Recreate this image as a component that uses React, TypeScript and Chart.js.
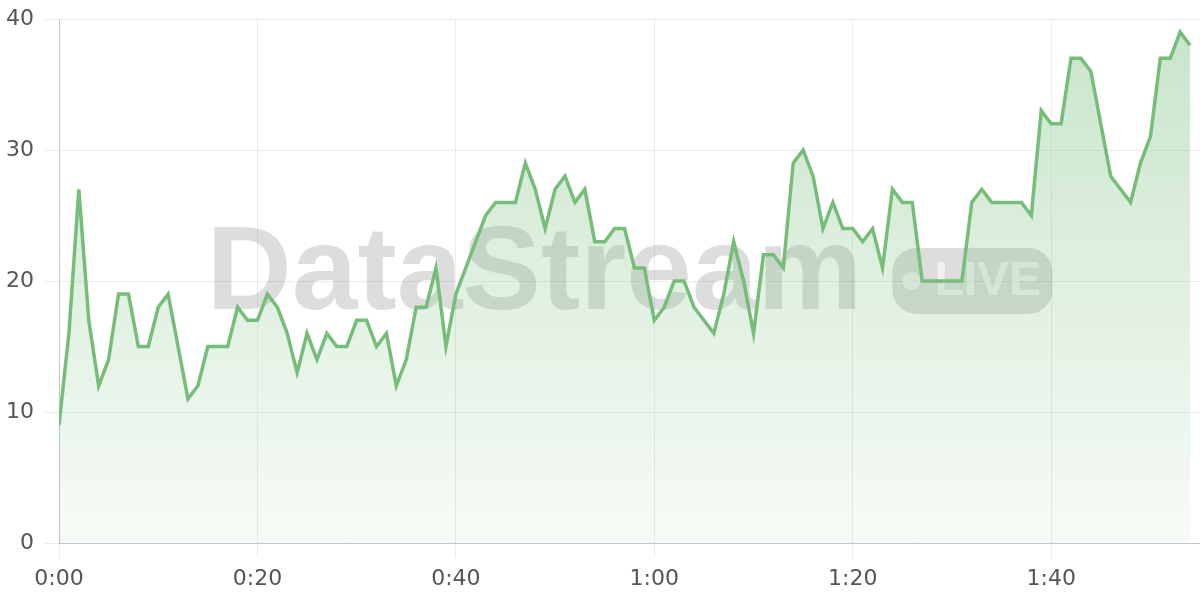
import React, { useEffect, useRef } from 'react';
import { Chart, registerables } from 'chart.js';

Chart.register(...registerables);

// Value per second, from 0:00 to 1:54
const values: number[] = [
  9, 16, 27, 17, 12, 14, 19, 19, 15, 15,
  18, 19, 15, 11, 12, 15, 15, 15, 18, 17,
  17, 19, 18, 16, 13, 16, 14, 16, 15, 15,
  17, 17, 15, 16, 12, 14, 18, 18, 21, 15,
  19, 21, 23, 25, 26, 26, 26, 29, 27, 24,
  27, 28, 26, 27, 23, 23, 24, 24, 21, 21,
  17, 18, 20, 20, 18, 17, 16, 19, 23, 20,
  16, 22, 22, 21, 29, 30, 28, 24, 26, 24,
  24, 23, 24, 21, 27, 26, 26, 20, 20, 20,
  20, 20, 26, 27, 26, 26, 26, 26, 25, 33,
  32, 32, 37, 37, 36, 32, 28, 27, 26, 29,
  31, 37, 37, 39, 38,
];

const xMin = 0;
const xMax = 115;
const xStep = 20;
const yMin = 0;
const yMax = 40;
const yStep = 10;

const watermarkText = 'DataStream';
const badgeText = 'LIVE';

const lineColor = 'rgb(118, 189, 121)';
const tickColor = '#555555';
const gridColor = 'rgba(0,0,0,0.075)';
const borderColor = 'rgba(0,0,0,0.17)';
const fontFamily = '"DejaVu Sans", "Liberation Sans", sans-serif';

function fmtTime(s: number): string {
  const m = Math.floor(s / 60);
  const ss = Math.round(s % 60);
  return `${m}:${String(ss).padStart(2, '0')}`;
}

const watermarkPlugin = {
  id: 'watermark',
  beforeDatasetsDraw(chart: any) {
    const { ctx, chartArea } = chart;
    if (!chartArea) return;
    const { left, right, top, bottom } = chartArea;
    const cx = (left + right) / 2;
    const cy = (top + bottom) / 2;
    ctx.save();
    ctx.font = 'bold 118px "Liberation Sans", Arial, sans-serif';
    const tw = ctx.measureText(watermarkText).width;
    const badgeW = 160;
    const badgeH = 66;
    const gap = 30;
    const total = tw + gap + badgeW;
    const x0 = cx - total / 2;
    ctx.fillStyle = 'rgba(0,0,0,0.135)';
    ctx.textBaseline = 'alphabetic';
    ctx.textAlign = 'left';
    ctx.fillText(watermarkText, x0, cy + 28);
    const bx = x0 + tw + gap;
    const by = cy - badgeH / 2;
    ctx.beginPath();
    (ctx as any).roundRect(bx, by, badgeW, badgeH, 24);
    ctx.fill();
    ctx.fillStyle = 'rgba(255,255,255,0.6)';
    ctx.beginPath();
    ctx.arc(bx + 19, cy, 9, 0, Math.PI * 2);
    ctx.fill();
    ctx.font = 'bold 48px "Liberation Sans", Arial, sans-serif';
    ctx.textBaseline = 'middle';
    ctx.fillText(badgeText, bx + 42, cy + 1);
    ctx.restore();
  },
};

export default function App() {
  const canvasRef = useRef<HTMLCanvasElement | null>(null);

  useEffect(() => {
    if (!canvasRef.current) return;
    const points = values.map((v, i) => ({ x: i, y: v }));
    const chart = new Chart(canvasRef.current, {
      type: 'line',
      data: {
        datasets: [
          {
            data: points,
            borderColor: lineColor,
            borderWidth: 3.5,
            pointRadius: 0,
            tension: 0,
            fill: 'origin',
            backgroundColor: (c: any) => {
              const area = c.chart.chartArea;
              if (!area) return 'rgba(118,189,121,0.2)';
              const g = c.chart.ctx.createLinearGradient(0, area.top, 0, area.bottom);
              g.addColorStop(0, 'rgba(118,189,121,0.40)');
              g.addColorStop(1, 'rgba(118,189,121,0.06)');
              return g;
            },
          },
        ],
      },
      options: {
        animation: false,
        responsive: true,
        maintainAspectRatio: false,
        layout: { padding: { top: 19, right: 0, left: 0, bottom: 0 } },
        plugins: {
          legend: { display: false },
          tooltip: { enabled: false },
        },
        scales: {
          x: {
            type: 'linear',
            min: xMin,
            max: xMax,
            afterFit: (scale: any) => {
              scale.height = 57;
              scale.paddingLeft = 0;
              scale.paddingRight = 0;
            },
            ticks: {
              stepSize: xStep,
              includeBounds: false,
              callback: (v: any) => fmtTime(Number(v)),
              color: tickColor,
              font: { family: fontFamily, size: 22 },
              padding: 8,
              maxRotation: 0,
            },
            grid: { color: gridColor, tickLength: 15 },
            border: { color: borderColor },
          },
          y: {
            min: yMin,
            max: yMax,
            afterFit: (scale: any) => {
              scale.width = 59;
              scale.paddingTop = 0;
              scale.paddingBottom = 0;
            },
            ticks: {
              stepSize: yStep,
              color: tickColor,
              font: { family: fontFamily, size: 22 },
              padding: 10,
            },
            grid: { color: gridColor, tickLength: 15 },
            border: { color: borderColor },
          },
        },
      },
      plugins: [watermarkPlugin],
    });
    return () => chart.destroy();
  }, []);

  return (
    <div style={{ position: 'absolute', left: 0, top: 0, width: 1200, height: 600, background: '#fff' }}>
      <canvas ref={canvasRef} />
    </div>
  );
}
